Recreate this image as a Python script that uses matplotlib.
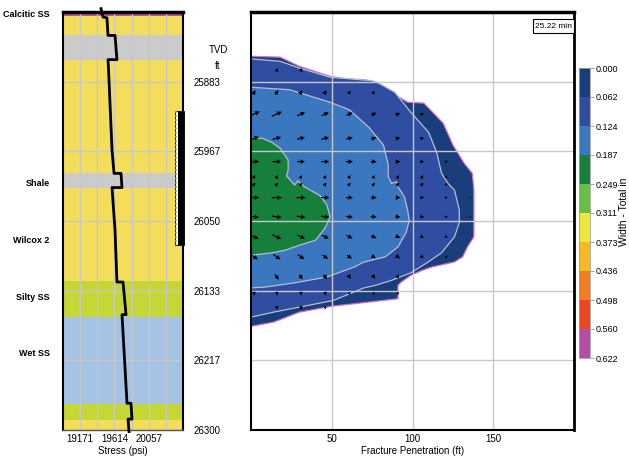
import matplotlib
matplotlib.use('Agg')
import matplotlib.pyplot as plt
import matplotlib.transforms as mtransforms
from matplotlib.colors import ListedColormap, BoundaryNorm
from matplotlib.cm import ScalarMappable
from matplotlib.patches import Rectangle, Polygon
import numpy as np

plt.rcParams['font.family'] = ['Liberation Sans', 'DejaVu Sans']

# ---- data ----
depth_ticks = [25883.3, 25966.7, 26050.0, 26133.3, 26216.7, 26300.0]
depth_labels = ['25883', '25967', '26050', '26133', '26217', '26300']

stress_grid = [19171.4, 19392.9, 19614.3, 19835.7, 20057.1, 20278.6]
stress_labels = ['19171', '', '19614', '', '20057', '']

# layers (top, base, kind)
layer_top = [25800, 25805, 25828, 25857, 25993, 26010, 26122, 26165, 26269, 26288]
layer_base = [25805, 25828, 25857, 25993, 26010, 26122, 26165, 26269, 26288, 26300]
layer_kind = ['calc', 'ss', 'shale', 'ss', 'shale', 'ss', 'silty', 'wet', 'silty', 'ss']
layer_color = {'calc': '#b84f9f', 'ss': '#f3dd5b', 'shale': '#cbcbcb',
               'silty': '#c5d735', 'wet': '#a5c3e5'}

zone_names = ['Calcitic SS', 'Shale', 'Wilcox 2', 'Silty SS', 'Wet SS']
zone_depth = [25803, 26005, 26073, 26141, 26209]

# stress profile
stress_depth = [25796, 25806, 25807, 25828, 25828, 25857, 25857, 25863, 25881, 25965,
                25993, 25993, 26010, 26010, 26061, 26123, 26123, 26162, 26162, 26268,
                26268, 26287, 26287, 26302]
stress_psi = [19441, 19467, 19518, 19531, 19622, 19647, 19531, 19535, 19544, 19583,
              19609, 19699, 19712, 19583, 19622, 19647, 19725, 19764, 19712, 19777,
              19828, 19841, 19790, 19803]

perf_top = 25918
perf_base = 26079

# fracture width contours (penetration ft, depth ft)
outer_x = [0, 18, 30, 49, 59, 70, 76, 83, 89, 97, 107, 110, 119, 125, 132, 137, 138, 138,
           134, 131, 126, 112, 106, 99, 93, 91, 91, 50, 30, 14, 0]
outer_d = [25853, 25854, 25865, 25877, 25880, 25881, 25883, 25890, 25899, 25908, 25909,
           25915, 25933, 25959, 25981, 25993, 26012, 26069, 26081, 26093, 26099, 26105,
           26109, 26115, 26123, 26127, 26143, 26152, 26159, 26171, 26176]
lev2_x = [0, 18, 30, 49, 74, 78, 89, 99, 110, 115, 118, 122, 126, 129, 129, 126, 118, 109,
          99, 87, 77, 70, 51, 30, 14, 0]
lev2_d = [25856, 25859, 25867, 25878, 25882, 25884, 25896, 25920, 25944, 25968, 25993,
          26005, 26013, 26037, 26052, 26069, 26088, 26100, 26112, 26121, 26127, 26130,
          26145, 26153, 26159, 26165]
lev3_x = [0, 24, 49, 61, 73, 82, 85, 85, 87, 90, 91, 95, 97, 98, 96, 91, 83, 70, 64, 47,
          27, 9, 0]
lev3_d = [25890, 25893, 25908, 25917, 25938, 25959, 25983, 25997, 26005, 26003, 26009,
          26021, 26037, 26049, 26064, 26081, 26093, 26099, 26105, 26117, 26124, 26129, 26130]
lev4_x = [0, 7, 13, 18, 23, 23, 22, 27, 29, 33, 43, 47, 49, 46, 40, 30, 21, 13, 0]
lev4_d = [25951, 25951, 25956, 25963, 25977, 25989, 25996, 26007, 26002, 26009, 26020,
          26031, 26045, 26058, 26073, 26079, 26085, 26088, 26091]

# flow arrows: columns (ft), rows (depth), angle (deg), first column, lengths
arrow_cols = [2, 16, 31, 46, 61, 76, 91, 106, 121, 136]
arrow_depth = [25869, 25896, 25922, 25951, 25979, 25997, 26006, 26022, 26045, 26069,
               26093, 26117, 26137, 26154]
arrow_angle = [80, 55, 25, 15, 0, 60, 45, 0, -8, -25, -35, -55, -75, -80]
arrow_first = [1, 0, 0, 0, 0, 0, 0, 0, 0, 0, 0, 1, 0, 1]
arrow_len = [[4, 4],
             [5, 6, 5, 5, 4, 4],
             [12, 11, 9, 8, 7, 6, 5, 4],
             [10, 9, 8, 8, 7, 6, 5, 4],
             [10, 9, 8, 8, 7, 6, 5, 4, 3],
             [4, 4, 4, 4, 4, 4, 4, 4, 3],
             [4, 4, 4, 4, 4, 4, 4, 4, 3],
             [10, 10, 9, 8, 7, 6, 5, 4, 3, 2],
             [10, 10, 9, 8, 7, 6, 5, 4, 3, 2],
             [10, 10, 9, 8, 7, 6, 5, 4, 3],
             [9, 9, 8, 7, 6, 5, 5, 4, 3],
             [7, 6, 6, 5, 5, 4],
             [4, 4, 4, 4, 3, 3, 3],
             [4, 4, 3]]

width_bounds = [0.000, 0.062, 0.124, 0.187, 0.249, 0.311, 0.373, 0.436, 0.498, 0.560, 0.622]
width_labels = ['0.000', '0.062', '0.124', '0.187', '0.249', '0.311', '0.373', '0.436',
                '0.498', '0.560', '0.622']
width_colors = ['#1a3e7c', '#2f4ea2', '#3a77bf', '#157f3b', '#6abd45', '#ede83b',
                '#f6b91f', '#f17e22', '#ec4623', '#b44ea4']

time_label = '25.22 min'

# ---- figure ----
W, H = 629, 462
fig = plt.figure(figsize=(W / 100, H / 100), dpi=100)


def axes_px(x0, y0, x1, y1):
    return fig.add_axes([x0 / W, 1 - y1 / H, (x1 - x0) / W, (y1 - y0) / H])


grid_col = '#c8c8c8'
fs = 7

# left: stress log
ax1 = axes_px(63, 12, 183, 430)
ax1.set_xlim(18950, 20500)
ax1.set_ylim(26300, 25800)
for top, base, kind in zip(layer_top, layer_base, layer_kind):
    ax1.axhspan(top, base, color=layer_color[kind], lw=0, zorder=0)
ax1.set_xticks(stress_grid)
ax1.set_xticklabels(stress_labels, fontsize=fs)
ax1.set_yticks(depth_ticks)
ax1.set_yticklabels([])
ax1.tick_params(length=0, pad=3)
ax1.set_axisbelow('line')
ax1.grid(color=grid_col, lw=1)
ax1.plot(stress_psi, stress_depth, color='k', lw=2, clip_on=False, zorder=4)
ax1.set_xlabel('Stress (psi)', fontsize=fs, labelpad=1)
for sp in ['left', 'right']:
    ax1.spines[sp].set_linewidth(1.5)
ax1.spines['top'].set_linewidth(2.5)
ax1.spines['bottom'].set_linewidth(1)
ax1.spines['bottom'].set_color('#555555')

tr = mtransforms.blended_transform_factory(ax1.transAxes, ax1.transData)
for name, d in zip(zone_names, zone_depth):
    ax1.text(-0.11, d, name, transform=tr, ha='right', va='center',
             fontsize=6.5, fontweight='bold')

# perforations
ax1.add_patch(Rectangle((0.933, perf_top), 0.025, perf_base - perf_top, transform=tr,
                        fc='white', ec='k', lw=0.6, clip_on=False, zorder=5))
ax1.add_patch(Rectangle((0.958, perf_top), 0.05, perf_base - perf_top, transform=tr,
                        fc='k', ec='k', lw=0.6, clip_on=False, zorder=5))
ax1.plot([0.945, 0.945], [perf_top, perf_base], transform=tr, color='#66bb44',
         lw=1.2, ls=(0, (1, 1.5)), clip_on=False, zorder=6)

# right: fracture profile
ax2 = axes_px(251, 12, 574, 430)
ax2.set_xlim(0, 200)
ax2.set_ylim(26300, 25800)
edges = ['#d070c0', '#b8bcd0', '#b8bcd0', '#b8bcd0']
for i, (xs, ds) in enumerate([(outer_x, outer_d), (lev2_x, lev2_d),
                              (lev3_x, lev3_d), (lev4_x, lev4_d)]):
    ax2.add_patch(Polygon(np.column_stack([xs, ds]), closed=True,
                          fc=width_colors[i], ec=edges[i], lw=0.9, zorder=0.5 + 0.1 * i))

X, Y, U, V = [], [], [], []
for d, ang, first, lens in zip(arrow_depth, arrow_angle, arrow_first, arrow_len):
    for j, L in enumerate(lens):
        X.append(arrow_cols[first + j])
        Y.append(d)
        U.append(L * np.cos(np.radians(ang)))
        V.append(L * np.sin(np.radians(ang)))
ax2.quiver(X, Y, U, V, angles='uv', scale_units='dots', scale=1, units='dots',
           width=1.2, headwidth=4, headlength=4, headaxislength=3.5,
           pivot='middle', color='k', zorder=3)

ax2.set_xticks([50, 100, 150])
ax2.set_xticklabels(['50', '100', '150'], fontsize=fs)
ax2.set_yticks(depth_ticks)
ax2.set_yticklabels(depth_labels, fontsize=fs)
ax2.tick_params(axis='x', length=0, pad=3)
ax2.tick_params(axis='y', length=0, pad=22)
ax2.set_axisbelow('line')
ax2.grid(color=grid_col, lw=1)
ax2.set_xlabel('Fracture Penetration (ft)', fontsize=fs, labelpad=1)
ax2.spines['top'].set_linewidth(2.5)
ax2.spines['right'].set_linewidth(2)
ax2.spines['left'].set_linewidth(1.5)
ax2.spines['bottom'].set_linewidth(1.5)

fig.text(218 / W, 1 - 50 / H, 'TVD', ha='center', va='center', fontsize=fs)
fig.text(218 / W, 1 - 66 / H, 'ft', ha='center', va='center', fontsize=fs)

ax2.add_patch(Rectangle((0.872, 0.950), 0.128, 0.034, transform=ax2.transAxes,
                        fc='white', ec='k', lw=0.8, zorder=6, clip_on=False))
ax2.text(0.936, 0.966, time_label, transform=ax2.transAxes, ha='center', va='center',
         fontsize=6, zorder=7)

# colour bar
cax = axes_px(579, 68, 590, 358)
cmap = ListedColormap(width_colors)
norm = BoundaryNorm(width_bounds, cmap.N)
cb = fig.colorbar(ScalarMappable(norm=norm, cmap=cmap), cax=cax, drawedges=True)
cb.dividers.set_color('#c0c0c0')
cb.dividers.set_linewidth(1)
cb.outline.set_edgecolor('#a0a0a0')
cb.outline.set_linewidth(0.6)
cax.invert_yaxis()
cb.set_ticks(width_bounds, labels=width_labels)
cax.tick_params(length=3, width=0.6, color='#909090', labelsize=6.5, pad=1)
fig.text(624 / W, 1 - 212 / H, 'Width - Total in', rotation=90, ha='center',
         va='center', fontsize=7.5)

fig.savefig('out.png', dpi=100)
